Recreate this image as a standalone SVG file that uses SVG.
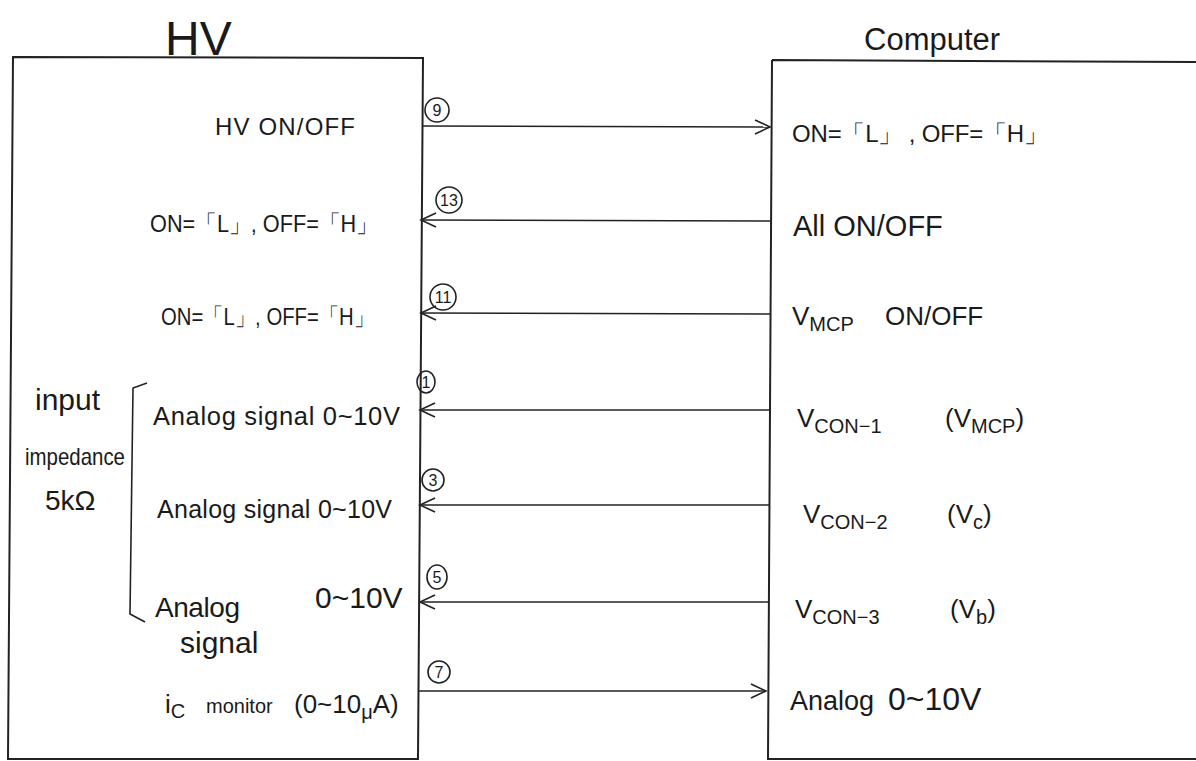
<svg xmlns="http://www.w3.org/2000/svg" width="1196" height="761" viewBox="0 0 1196 761" xml:space="preserve">
<style>
.box{fill:none;stroke:#222;stroke-width:2}
.t{font-family:"Liberation Sans","DejaVu Sans",sans-serif;fill:#1a1a1a;white-space:pre}
.title{font-family:"Liberation Sans","DejaVu Sans",sans-serif;fill:#1a1a1a}
.wire{stroke:#222;stroke-width:1.6;fill:none}
.num{fill:none;stroke:#222;stroke-width:1.6}
.nt{font-family:"Liberation Sans",sans-serif;font-size:16px;fill:#1a1a1a;text-anchor:middle}
.sub{font-size:20px}
</style>
<defs>
<marker id="ah" markerWidth="18" markerHeight="16" refX="16" refY="8" orient="auto" markerUnits="userSpaceOnUse">
<path d="M1,1 L16,8 L1,15" fill="none" stroke="#222" stroke-width="1.6"/>
</marker>
</defs>
<rect width="1196" height="761" fill="#fff"/>

<g id="hv">
<text class="title" x="165" y="55" font-size="48">HV</text>
<path class="box" d="M13,57 L423,58 L418,759 L8,759 Z"/>
<text class="t" x="215" y="135" font-size="24" textLength="140" lengthAdjust="spacing">HV ON/OFF</text>
<text class="t" x="150" y="232" font-size="24" textLength="228" lengthAdjust="spacingAndGlyphs">ON=「L」, OFF=「H」</text>
<text class="t" x="161" y="325" font-size="24" textLength="213" lengthAdjust="spacingAndGlyphs">ON=「L」, OFF=「H」</text>
<text class="t" x="35" y="410" font-size="30">input</text>
<text class="t" x="25" y="465" font-size="24" textLength="100" lengthAdjust="spacingAndGlyphs">impedance</text>
<text class="t" x="45" y="510" font-size="28">5kΩ</text>
<path class="wire" d="M147,383 L133,388 L130,614 L145,622"/>
<text class="t" x="153" y="425" font-size="25.5" textLength="247" lengthAdjust="spacing">Analog signal 0~10V</text>
<text class="t" x="157" y="518" font-size="25" textLength="235" lengthAdjust="spacing">Analog signal 0~10V</text>
<text class="t" x="155" y="617" font-size="28" textLength="85" lengthAdjust="spacing">Analog</text>
<text class="t" x="180" y="653" font-size="30">signal</text>
<text class="t" x="315" y="608" font-size="30">0~10V</text>
<text class="t" x="165" y="713" font-size="26">i<tspan class="sub" dy="5">C</tspan><tspan x="206" dy="-5" font-size="20">monitor</tspan><tspan x="294">(0~10</tspan><tspan class="sub" dy="6">μ</tspan><tspan dy="-6">A)</tspan></text>
</g>

<g id="computer">
<text class="title" x="864" y="50" font-size="31">Computer</text>
<path class="box" d="M772,60 L1196,62 M772,60 L768,759 L1196,759"/>
<text class="t" x="792" y="142" font-size="24" textLength="256" lengthAdjust="spacing">ON=「L」 , OFF=「H」</text>
<text class="t" x="793" y="236" font-size="29">All ON/OFF</text>
<text class="t" x="792" y="325" font-size="26">V<tspan class="sub" dy="6">MCP</tspan><tspan x="885" dy="-6">ON/OFF</tspan></text>
<text class="t" x="797" y="427" font-size="26">V<tspan class="sub" dy="6">CON−1</tspan><tspan x="945" dy="-6">(V</tspan><tspan class="sub" dy="6" font-size="22">MCP</tspan><tspan dy="-6">)</tspan></text>
<text class="t" x="803" y="523" font-size="26">V<tspan class="sub" dy="6">CON−2</tspan><tspan x="947" dy="-6">(V</tspan><tspan class="sub" dy="6">c</tspan><tspan dy="-6">)</tspan></text>
<text class="t" x="795" y="618" font-size="26">V<tspan class="sub" dy="6">CON−3</tspan><tspan x="950" dy="-6">(V</tspan><tspan class="sub" dy="6">b</tspan><tspan dy="-6">)</tspan></text>
<text class="t" x="790" y="710" font-size="27">Analog <tspan x="888" font-size="32">0~10V</tspan></text>
</g>

<g id="connectors">
<line class="wire" x1="423" y1="126" x2="770" y2="127" marker-end="url(#ah)"/>
<line class="wire" x1="770" y1="221" x2="421" y2="220" marker-end="url(#ah)"/>
<line class="wire" x1="770" y1="314" x2="421" y2="313" marker-end="url(#ah)"/>
<line class="wire" x1="769" y1="410" x2="420" y2="410" marker-end="url(#ah)"/>
<line class="wire" x1="769" y1="505" x2="420" y2="505" marker-end="url(#ah)"/>
<line class="wire" x1="768" y1="602" x2="420" y2="602" marker-end="url(#ah)"/>
<line class="wire" x1="419" y1="691" x2="766" y2="691" marker-end="url(#ah)"/>
<g id="labels">
<circle class="num" cx="437" cy="110" r="12"/><text class="nt" x="437" y="116">9</text>
<circle class="num" cx="449" cy="200" r="13"/><text class="nt" x="449" y="206">13</text>
<circle class="num" cx="443" cy="297" r="13"/><text class="nt" x="443" y="303">11</text>
<ellipse class="num" cx="426" cy="382" rx="9" ry="11"/><text class="nt" x="426" y="388">1</text>
<circle class="num" cx="433" cy="480" r="11"/><text class="nt" x="433" y="486">3</text>
<ellipse class="num" cx="437" cy="577" rx="10" ry="12"/><text class="nt" x="437" y="583">5</text>
<circle class="num" cx="439" cy="672" r="11"/><text class="nt" x="439" y="678">7</text>
</g>
</g>
</svg>
